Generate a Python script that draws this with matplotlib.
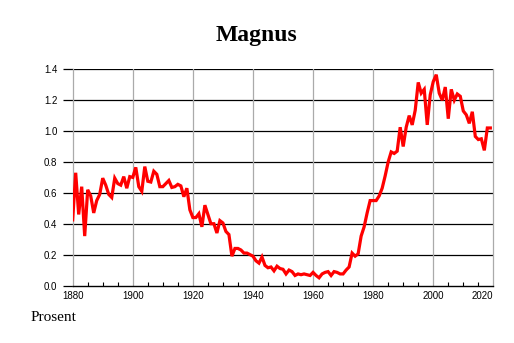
import numpy as np
import matplotlib
matplotlib.use('Agg')
import matplotlib.pyplot as plt
from matplotlib.ticker import MultipleLocator

# share of newborns named Magnus, percent
start_year = 1880
percent = [
    0.425, 0.73, 0.46, 0.64, 0.32, 0.62, 0.58, 0.47, 0.55, 0.59,
    0.695, 0.65, 0.59, 0.57, 0.695, 0.66, 0.65, 0.705, 0.63, 0.705,
    0.70, 0.765, 0.64, 0.61, 0.77, 0.675, 0.67, 0.74, 0.72, 0.64,
    0.64, 0.66, 0.68, 0.635, 0.64, 0.655, 0.645, 0.575, 0.63, 0.49,
    0.44, 0.44, 0.465, 0.38, 0.52,
    0.46, 0.40, 0.40, 0.34, 0.42, 0.405, 0.35, 0.33, 0.19, 0.24,
    0.24, 0.23, 0.21, 0.21, 0.20, 0.19, 0.16, 0.145, 0.185, 0.13,
    0.115, 0.12, 0.095, 0.125, 0.11, 0.105, 0.075, 0.10, 0.09, 0.065,
    0.075, 0.07, 0.075, 0.07, 0.065, 0.085, 0.065, 0.05, 0.075, 0.085,
    0.09, 0.065, 0.09, 0.085, 0.075, 0.075, 0.10, 0.12,
    0.21, 0.19, 0.205, 0.32, 0.38, 0.47, 0.55, 0.55, 0.55, 0.58,
    0.63, 0.71, 0.80, 0.865, 0.855, 0.87, 1.025, 0.90, 1.025, 1.10,
    1.04, 1.135, 1.315, 1.245, 1.27, 1.04, 1.235, 1.32, 1.365, 1.245,
    1.20, 1.285, 1.08, 1.27, 1.20, 1.24, 1.225, 1.13, 1.105, 1.05,
    1.125, 0.965, 0.945, 0.95, 0.875, 1.02, 1.02,
]
years = np.arange(start_year, start_year + len(percent))
x_ticks = [1880, 1900, 1920, 1940, 1960, 1980, 2000, 2020]
y_ticks = [0.0, 0.2, 0.4, 0.6, 0.8, 1.0, 1.2, 1.4]

fig = plt.figure(figsize=(5.14, 3.43), dpi=100)
ax = fig.add_axes([0.1414, 0.1676, 0.8184, 0.6304])

ax.plot(years, percent, color='#ff0000', lw=2.3, solid_joinstyle='miter', zorder=3)

ax.set_xlim(1880, 2020)
ax.set_ylim(0, 1.4)
ax.set_xticks(x_ticks)
ax.set_yticks(y_ticks)
ax.set_yticklabels(['%.1f' % v for v in y_ticks])
ax.xaxis.set_minor_locator(MultipleLocator(5))

# grid: black horizontal, grey vertical
for v in y_ticks[1:]:
    ax.axhline(v, color='black', lw=0.9, zorder=1)
for v in x_ticks[1:-1]:
    ax.axvline(v, color='#aaaaaa', lw=0.9, zorder=1)

for side in ['left', 'right']:
    ax.spines[side].set_color('#aaaaaa')
    ax.spines[side].set_linewidth(0.9)
ax.spines['top'].set_visible(False)
ax.spines['bottom'].set_color('black')
ax.spines['bottom'].set_linewidth(1.0)

ax.tick_params(axis='x', which='major', direction='in', length=0, pad=4,
               labelsize=7, labelfontfamily='Liberation Sans')
ax.tick_params(axis='x', which='minor', direction='in', length=3, width=0.8, color='black')
ax.tick_params(axis='y', direction='out', length=7, width=0.9, color='black', pad=4,
               labelsize=7, labelfontfamily='Liberation Sans')
# last year label sits flush with the right edge
ax.get_xticklabels()[-1].set_ha('right')

fig.text(0.499, 0.881, 'Magnus', ha='center', va='baseline', fontsize=17,
         fontweight='bold', family='Liberation Serif')
fig.text(0.060, 0.064, 'Prosent', ha='left', va='baseline', fontsize=11,
         family='Liberation Serif')

fig.savefig('out.png', dpi=100)
